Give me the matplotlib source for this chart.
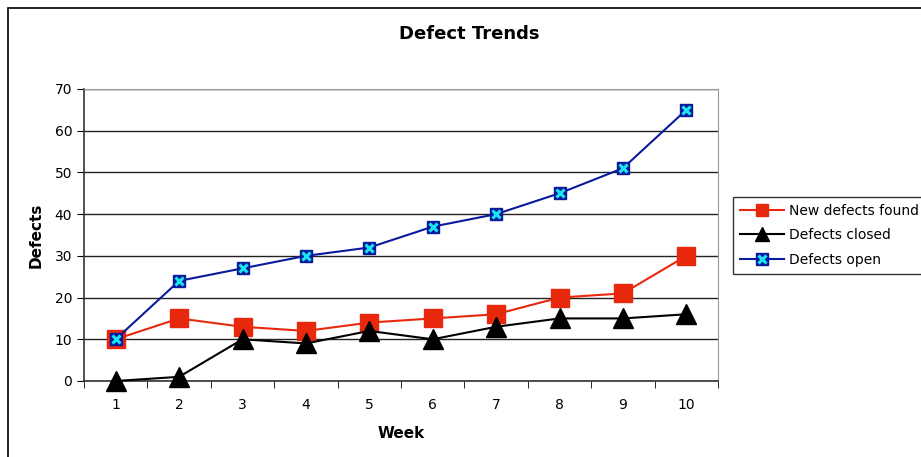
import matplotlib.pyplot as plt
from matplotlib.patches import Rectangle
from matplotlib.lines import Line2D

weeks = [1, 2, 3, 4, 5, 6, 7, 8, 9, 10]
new_found = [10, 15, 13, 12, 14, 15, 16, 20, 21, 30]
closed = [0, 1, 10, 9, 12, 10, 13, 15, 15, 16]
still_open = [10, 24, 27, 30, 32, 37, 40, 45, 51, 65]

navy = '#0a1a9c'
cyan = '#19e6f0'
red = '#e8280c'

fig = plt.figure(figsize=(9.21, 4.57), dpi=100)

# outer chart frame (cut off at right and bottom as in the reference)
fig.patches.append(Rectangle((8 / 921, -0.05), 1.0, 1 - 8 / 457 + 0.05,
                             transform=fig.transFigure, fill=False,
                             edgecolor='black', linewidth=1.2))

ax = fig.add_axes([84 / 921, 76 / 457, 634 / 921, 292 / 457])

ax.plot(weeks, new_found, color=red, lw=1.5, marker='s', ms=13,
        mfc=red, mec=red, zorder=3, clip_on=False)
ax.plot(weeks, closed, color='black', lw=1.5, marker='^', ms=15,
        mfc='black', mec='black', zorder=4, clip_on=False)
ax.plot(weeks, still_open, color=navy, lw=1.5, marker='s', ms=9,
        mfc=navy, mec=navy, zorder=5, clip_on=False)
ax.plot(weeks, still_open, ls='none', marker='x', ms=6, mew=2.2,
        color=cyan, zorder=6, clip_on=False)

ax.set_xlim(0.5, 10.5)
ax.set_ylim(0, 70)
ax.set_yticks(range(0, 71, 10))
ax.set_xticks(weeks)
ax.set_xticks([w + 0.5 for w in [0] + weeks], minor=True)
ax.tick_params(axis='x', which='major', length=0, pad=12, labelsize=10)
ax.tick_params(axis='x', which='minor', length=5, direction='out')
ax.tick_params(axis='y', length=5, direction='out', labelsize=10)

ax.grid(axis='y', color='#222222', lw=1)
ax.set_axisbelow(True)
for s in ['top', 'right']:
    ax.spines[s].set_color('#999999')
for s in ['left', 'bottom']:
    ax.spines[s].set_color('#333333')
    ax.spines[s].set_linewidth(1.2)

ax.set_xlabel('Week', fontweight='bold', fontsize=11, labelpad=10)
ax.set_ylabel('Defects', fontweight='bold', fontsize=11, labelpad=8)
fig.text(469 / 921, 1 - 34 / 457, 'Defect Trends', ha='center', va='center',
         fontsize=13, fontweight='bold')

# legend handles
h1 = Line2D([], [], color=red, lw=1.5, marker='s', ms=9, mfc=red, mec=red)
h2 = Line2D([], [], color='black', lw=1.5, marker='^', ms=10,
            mfc='black', mec='black')
h3a = Line2D([], [], color=navy, lw=1.5, marker='s', ms=9, mfc=navy, mec=navy)
h3b = Line2D([], [], ls='none', marker='x', ms=6, mew=2.2, color=cyan)
leg = fig.legend([h1, h2, (h3a, h3b)],
                 ['New defects found', 'Defects closed', 'Defects open'],
                 loc='upper left', bbox_to_anchor=(733 / 921, 1 - 197 / 457),
                 frameon=True, fancybox=False, edgecolor='black',
                 fontsize=10, handlelength=3.2, handletextpad=0.3,
                 borderpad=0.5, labelspacing=0.75, borderaxespad=0)
leg.get_frame().set_linewidth(1)

fig.savefig('out.png', dpi=100)
